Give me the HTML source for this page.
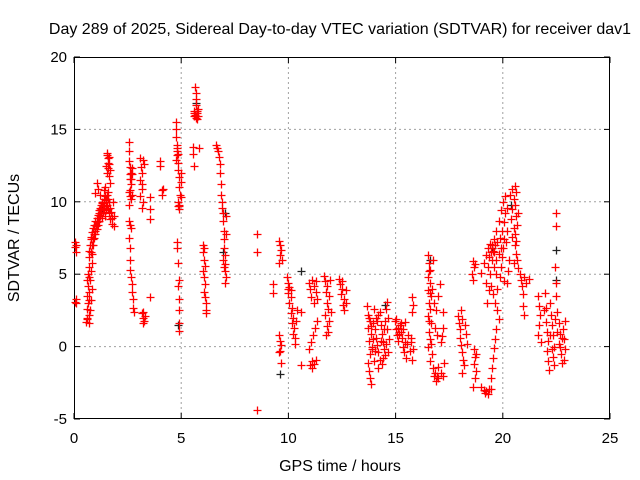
<!DOCTYPE html>
<html><head><meta charset="utf-8"><style>
html,body{margin:0;padding:0;background:#fff;}
svg{display:block;font-family:"Liberation Sans",sans-serif;}
</style></head><body>
<svg id="chart" width="640" height="480" viewBox="0 0 640 480">
<rect width="640" height="480" fill="#fff"/>
<text x="340" y="34" font-size="16" text-anchor="middle">Day 289 of 2025, Sidereal Day-to-day VTEC variation (SDTVAR) for receiver dav1</text>
<g id="grid"></g>
<g id="axes"></g>
<g id="black-series"></g>
<g id="red-series"></g>
<text x="340" y="471" font-size="16" text-anchor="middle">GPS time / hours</text>
<text x="0" y="0" font-size="16" text-anchor="middle" transform="translate(19,238) rotate(-90)">SDTVAR / TECUs</text>
</svg>
<script>
const xTicks=[0,5,10,15,20,25];
const yTicks=[-5,0,5,10,15,20];
const xTickLabels=["0","5","10","15","20","25"];
const yTickLabels=["-5","0","5","10","15","20"];
const blackPoints=[[9.6,-1.9],[10.6,5.2],[22.5,6.7],[7.05,9.2],[4.85,1.5],[22.5,4.6],[16.6,6.0],[19.5,6.8],[20.4,9.8],[14.5,2.9],[1.3,9.6],[5.7,16.8],[6.95,6.5]];
const redPoints=[
[0.05,7.2],[0.05,6.9],[0.08,6.5],[0.1,7.0],[0.05,3.1],[0.1,3.0],[0.08,3.3],
[0.55,1.7],[0.6,2.0],[0.62,2.6],[0.6,3.5],[0.65,4.2],[0.68,4.8],[0.7,5.5],[0.72,6.2],[0.75,7.0],[0.78,7.4],[0.8,7.6],[0.85,7.9],[0.9,8.2],[0.95,8.4],[1.0,8.7],[1.05,8.9],[1.1,9.1],[1.15,9.4],[1.2,9.6],[1.25,9.8],[1.3,10.0],[1.35,9.7],[1.4,10.2],[1.45,10.4],[1.5,10.1],[1.55,9.8],[1.6,9.5],[1.65,9.2],[1.7,8.8],[1.75,8.5],
[0.62,1.9],[0.66,3.0],[0.7,3.8],[0.74,4.6],[0.78,5.2],[0.82,5.8],[0.86,6.4],[0.9,7.0],[0.95,7.5],[1.0,7.8],[1.05,8.1],[1.1,8.4],[1.15,8.7],[1.2,9.0],[1.25,9.2],[1.3,8.9],[1.35,9.3],[1.4,9.6],[1.45,9.0],[1.5,9.4],
[0.7,1.6],[0.75,2.5],[0.8,3.2],[0.85,4.0],[1.0,10.6],[1.05,11.3],[1.1,10.9],[1.2,10.5],[1.5,12.5],[1.55,13.2],[1.6,13.0],[1.65,12.6],[1.7,12.2],[1.52,13.4],[1.62,11.8],[1.7,11.3],[1.8,10.0],[1.85,9.0],[1.85,8.3],[1.6,10.7],[1.45,11.0],
[0.65,5.0],[0.7,6.6],[0.68,2.2],[0.72,3.2],[0.62,4.6],[0.78,6.5],[0.82,7.0],[0.88,7.4],[0.92,7.8],[0.98,8.0],[1.02,8.3],[1.08,8.6],[1.12,8.9],[1.18,9.2],[1.22,9.4],[1.28,9.5],[1.32,9.9],[1.38,10.0],[1.42,9.4],[1.48,9.7],[1.52,10.5],[1.58,10.2],[1.62,10.0],[1.68,9.6],[1.72,9.3],[1.78,8.9],[1.4,10.8],[1.55,12.0],[1.6,12.3],[1.65,13.1],[1.58,12.7],
[2.55,14.1],[2.55,13.5],[2.58,12.8],[2.6,12.4],[2.65,12.0],[2.6,11.6],[2.7,12.3],[2.65,11.2],[2.55,10.7],[2.6,10.4],[2.7,10.5],[2.58,9.8],[2.55,8.7],[2.6,8.4],[2.65,8.2],[2.55,7.5],[2.6,6.8],[2.62,6.0],[2.6,5.3],[2.65,4.8],[2.7,4.3],[2.72,3.8],[2.75,3.3],[2.75,2.7],[2.78,2.4],
[2.62,11.9],[2.68,11.6],[2.72,11.9],[2.62,10.8],[2.66,10.2],
[3.1,13.0],[3.12,12.4],[3.15,12.0],[3.1,11.5],[3.18,11.2],[3.15,10.9],[3.1,10.4],[3.2,10.0],[3.15,9.6],[3.2,12.9],[3.25,12.6],[3.15,2.3],[3.2,2.0],[3.25,1.8],[3.3,2.1],[3.2,1.6],[3.22,2.4],
[3.55,10.3],[3.55,9.5],[3.55,8.8],[3.55,3.4],[4.0,12.8],[4.02,12.5],[4.1,10.8],[4.1,10.5],[4.15,10.9],
[4.75,15.5],[4.75,15.0],[4.78,14.5],[4.8,13.9],[4.8,13.5],[4.82,13.2],[4.78,12.9],[4.85,12.7],[4.85,12.2],[4.9,11.7],[4.9,11.0],[4.95,10.5],[4.85,10.0],[4.85,9.7],[4.9,9.5],[4.8,7.2],[4.82,6.8],[4.85,5.8],[4.9,4.6],[4.85,4.2],[4.9,3.3],[4.9,2.5],[4.92,1.6],[4.9,1.1],[5.0,12.0],[5.0,11.4],[5.0,10.3],
[4.8,13.7],[4.85,13.3],[4.88,9.8],[4.92,9.7],
[5.65,17.9],[5.7,17.5],[5.7,17.1],[5.68,16.7],[5.6,16.3],[5.65,16.0],[5.7,15.8],[5.75,16.1],[5.8,16.4],[5.6,15.9],[5.75,15.7],[5.55,13.8],[5.55,13.3],[5.58,12.5],[5.85,13.7],
[5.62,16.1],[5.72,16.3],[5.78,15.9],[5.68,15.9],
[6.0,7.0],[6.02,6.5],[6.05,6.0],[6.0,5.2],[6.05,4.8],[6.1,4.3],[6.08,3.8],[6.12,3.4],[6.15,3.0],[6.15,2.5],[6.18,2.3],[6.05,6.8],[6.1,5.6],
[6.6,13.9],[6.65,13.7],[6.7,13.5],[6.75,13.1],[6.8,12.6],[6.8,12.0],[6.85,11.2],[6.85,10.5],[6.88,10.0],[6.9,9.6],[6.95,9.2],[6.95,8.7],[7.0,8.0],[7.0,7.4],[7.0,6.8],[7.05,6.3],[7.05,5.7],[7.05,5.2],[7.1,4.8],[7.05,4.4],[7.0,5.5],[6.95,6.0],[7.1,9.0],[7.1,7.8],
[8.55,7.8],[8.55,6.5],[8.55,-4.4],[9.3,4.3],[9.3,3.7],
[9.55,7.3],[9.6,7.0],[9.65,6.7],[9.6,6.3],[9.7,6.0],[9.55,5.8],[9.55,0.8],[9.6,0.4],[9.65,0.1],[9.6,-0.3],[9.55,-0.4],[9.65,-1.1],
[9.95,4.8],[10.0,4.4],[10.05,4.1],[10.0,3.7],[10.1,3.4],[10.05,3.0],[10.15,2.7],[10.1,2.3],[10.2,2.0],[10.15,1.6],[10.25,1.3],[10.2,0.9],[10.3,0.6],[10.3,0.2],[10.35,1.8],[10.4,2.5],[10.0,4.0],[10.1,3.9],
[10.6,2.4],[10.6,-1.3],
[10.95,4.4],[11.0,4.0],[11.1,4.6],[11.2,4.2],[11.3,3.8],[11.05,3.4],[11.2,3.0],[11.35,3.3],[11.3,4.5],[10.95,-0.2],[11.05,0.3],[11.15,0.8],[11.25,1.3],[11.35,1.8],[11.0,-1.3],[11.1,-1.0],[11.2,-1.2],[11.3,-0.9],[11.1,-1.5],
[11.65,4.9],[11.7,4.5],[11.8,4.2],[11.75,3.8],[11.9,3.5],[11.8,3.0],[11.85,2.6],[11.7,2.2],[11.9,1.8],[11.8,1.4],[11.85,1.0],[11.75,0.8],[11.95,4.6],[12.0,2.4],
[12.35,4.7],[12.4,4.3],[12.5,4.0],[12.45,3.6],[12.6,3.3],[12.55,2.9],[12.6,2.5],[12.7,3.9],[12.7,3.0],[12.5,4.5],
[13.65,2.8],[13.7,2.2],[13.8,1.8],[13.7,1.3],[13.85,0.9],[13.75,0.4],[13.9,0.0],[13.8,-0.5],[13.7,-1.1],[13.75,-1.7],[13.8,-2.2],[13.85,-2.6],[13.95,1.6],[14.0,2.6],[14.05,1.2],[14.1,0.6],[14.15,0.1],[14.2,-0.4],[14.25,-0.9],[14.1,2.0],[14.3,1.5],[14.35,0.9],[14.4,0.3],[14.45,-0.2],[14.5,1.8],[14.55,2.6],[14.6,3.1],[14.65,2.0],[14.6,1.2],[14.7,0.5],[14.5,-0.6],[14.35,-1.2],[14.2,-1.5],[14.0,-1.0],[13.9,-0.2],[14.25,2.4],[14.4,-0.8],
[13.75,2.0],[13.95,0.5],[14.05,-0.3],[14.15,1.8],[14.3,0.4],[14.45,1.2],[14.55,0.2],[14.65,-0.4],[14.2,2.2],[13.85,1.4],
[14.95,1.8],[15.0,1.2],[15.05,0.8],[15.1,0.4],[15.2,1.5],[15.25,1.0],[15.3,0.6],[15.35,0.0],[15.4,-0.4],[15.45,0.3],[15.5,-0.8],[15.45,1.7],[15.6,0.8],[15.7,0.3],[15.8,-0.2],[15.75,-0.9],[15.7,0.6],[15.75,3.4],[15.8,2.9],[15.75,2.4],[15.0,1.9],[15.35,1.2],
[15.1,1.3],[15.15,0.9],[15.25,1.6],[15.55,0.2],[15.65,-0.3],
[16.5,6.3],[16.55,5.8],[16.6,5.3],[16.5,4.8],[16.6,4.4],[16.5,3.9],[16.65,3.5],[16.55,3.0],[16.6,2.6],[16.5,2.1],[16.65,1.6],[16.55,1.0],[16.6,0.5],[16.5,0.0],[16.7,-0.5],[16.6,-1.0],[16.75,-1.5],[16.8,-2.0],[16.9,-2.4],[17.0,-2.2],[17.1,-1.8],[17.2,-2.0],[17.0,-1.4],[16.85,1.3],[16.95,0.8],[17.0,3.5],[17.05,4.3],[16.9,2.5],[17.1,0.3],[17.15,0.7],[17.2,1.3],[16.7,4.0],[16.75,6.0],[16.8,3.0],[17.2,2.4],[17.25,-1.1],
[16.55,5.2],[16.6,3.7],[16.55,1.8],[16.65,0.2],[16.85,-1.8],[16.95,-2.0],
[17.9,2.1],[17.95,1.6],[18.0,1.2],[18.05,2.5],[18.1,1.9],[18.0,0.6],[18.05,0.1],[18.1,-0.4],[18.15,-0.9],[18.2,-1.3],[18.1,-1.8],[18.3,0.9],[18.35,0.2],[18.25,1.5],
[18.6,5.9],[18.65,5.5],[18.55,5.0],[18.6,4.6],[18.7,5.7],[18.65,-0.2],[18.7,-0.7],[18.65,-1.2],[18.75,-1.7],[18.7,-2.2],[18.6,-2.8],[18.75,-0.5],
[19.0,-2.8],[19.1,-3.0],[19.2,-3.1],[19.3,-3.3],[19.15,-3.2],[19.35,-2.9],
[19.0,5.1],[19.1,5.8],[19.2,6.3],[19.3,6.8],[19.4,7.1],[19.5,7.0],[19.6,7.4],[19.7,8.0],[19.8,8.7],[19.9,9.4],[20.0,10.0],[20.1,10.4],[20.2,9.6],[19.3,5.5],[19.4,5.0],[19.5,6.0],[19.6,6.5],[19.45,4.2],[19.55,3.6],[19.65,3.0],[19.75,2.5],[19.8,1.9],[19.7,1.2],[19.65,0.5],[19.6,-0.1],[19.55,-0.8],[19.5,-1.5],[19.45,-2.2],[19.45,-2.9],[19.75,4.0],[19.85,4.8],[19.9,5.5],[19.95,6.2],[20.0,6.8],[20.05,4.5],[19.25,3.0],[19.35,3.9],[19.2,4.4],
[19.35,6.2],[19.45,6.5],[19.55,6.6],[19.65,7.0],[19.75,7.2],[19.85,7.5],[19.95,8.0],[20.05,8.6],[20.1,9.2],[19.7,6.0],[19.8,6.4],[19.9,6.8],[20.05,7.4],[19.6,5.5],[19.7,5.0],
[20.35,10.5],[20.45,10.9],[20.55,11.1],[20.6,10.7],[20.5,10.2],[20.45,9.5],[20.4,8.8],[20.5,8.2],[20.45,7.6],[20.55,7.0],[20.6,6.4],[20.5,5.8],[20.65,8.4],[20.7,9.2],[20.65,6.0],[20.7,5.4],[20.8,5.0],[20.85,4.6],[20.9,4.2],[20.95,3.6],[21.0,4.8],[21.1,4.4],[21.2,4.7],[20.95,2.8],[21.0,2.2],[20.3,6.0],[20.25,5.2],[20.2,4.4],[20.15,7.2],[20.2,8.0],
[20.55,9.8],[20.6,9.0],[20.55,7.8],[20.6,7.3],
[21.65,3.5],[21.7,2.8],[21.75,2.2],[21.7,1.5],[21.65,0.8],[21.8,0.3],[21.9,2.5],[21.95,3.7],[22.0,1.7],[22.05,1.0],[22.1,0.4],[22.05,-0.3],[22.1,-1.0],[22.15,-1.6],[22.2,3.0],[22.25,2.2],[22.3,1.5],[22.35,0.8],[22.4,0.0],[22.35,-0.7],[22.4,-1.3],[22.5,4.4],[22.5,3.5],[22.55,2.4],[22.6,1.6],[22.65,0.9],[22.6,0.2],[22.7,-0.5],[22.75,-1.1],[22.8,1.2],[22.85,0.5],[22.9,-0.2],[22.85,-0.9],[22.9,1.8],[22.5,9.2],[22.5,8.3],[22.45,5.5],[22.0,2.7],
[22.45,1.9],[22.55,1.0],[22.65,0.0],[22.75,0.6],[22.2,0.8],[22.3,-0.2]
];
const NS='http://www.w3.org/2000/svg';
const L=74,R=610,T=57,B=419;
function xs(v){return L+(v-0)/(25-0)*(R-L);}
function ys(v){return B-(v-(-5))/(20-(-5))*(B-T);}
function mk(tag,attrs,parent){const e=document.createElementNS(NS,tag);for(const k in attrs)e.setAttribute(k,attrs[k]);parent.appendChild(e);return e;}
const grid=document.getElementById('grid'),axes=document.getElementById('axes');
xTicks.forEach((t,i)=>{
  const x=xs(t);
  if(t>0&&t<25){const g=mk('line',{x1:x,y1:T,x2:x,y2:B,stroke:'#a0a0a0','stroke-dasharray':'2,3','stroke-width':1},grid);
  
  }
  mk('line',{x1:x,y1:B,x2:x,y2:B-6,stroke:'#000'},axes);
  mk('line',{x1:x,y1:T,x2:x,y2:T+6,stroke:'#000'},axes);
  const tx=mk('text',{x:x,y:443,'font-size':15,'text-anchor':'middle'},axes);
  tx.textContent=xTickLabels[i];
  
  
});
yTicks.forEach((t,i)=>{
  const y=ys(t);
  if(t>-5&&t<20){const g=mk('line',{x1:L,y1:y,x2:R,y2:y,stroke:'#a0a0a0','stroke-dasharray':'2,3','stroke-width':1},grid);
  
  }
  mk('line',{x1:L,y1:y,x2:L+6,y2:y,stroke:'#000'},axes);
  mk('line',{x1:R,y1:y,x2:R-6,y2:y,stroke:'#000'},axes);
  const tx=mk('text',{x:L-7,y:y+5,'font-size':15,'text-anchor':'end'},axes);
  tx.textContent=yTickLabels[i];
  
  
});
const frame=mk('rect',{x:L+0.5,y:T+0.5,width:R-L-1,height:B-T-1,fill:'none',stroke:'#000','stroke-width':1},axes);


function plus(p,color,parent,name){
  const x=Math.round(xs(p[0]))+0.5,y=Math.round(ys(p[1]))+0.5;
  const e=mk('path',{d:`M${x-4},${y}H${x+4}M${x},${y-4}V${y+4}`,stroke:color,'stroke-width':1.3,fill:'none'},parent);
  
  
}
const bg=document.getElementById('black-series'),rg=document.getElementById('red-series');
blackPoints.forEach(p=>plus(p,'#222',bg,'black-point'));
redPoints.forEach(p=>plus(p,'#ff0000',rg,'red-point'));
</script>
</body></html>
